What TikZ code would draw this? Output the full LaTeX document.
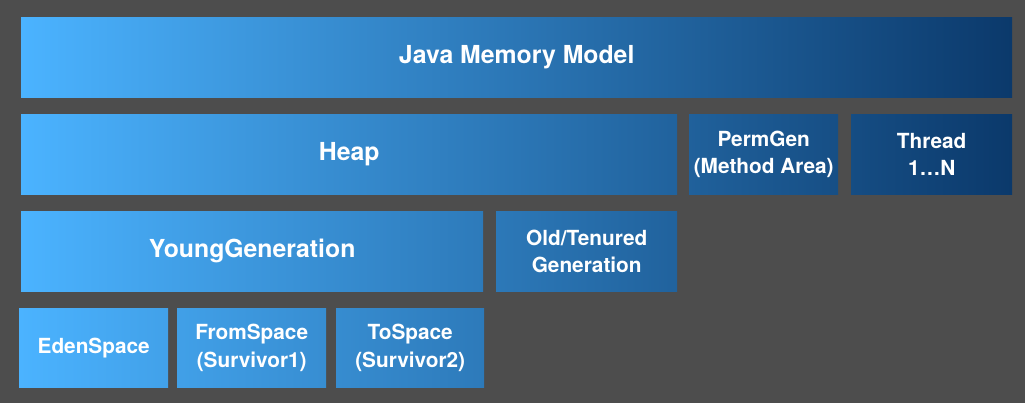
\documentclass[tikz,border=0pt]{standalone}
\usepackage{fontspec}
\setmainfont{TeX Gyre Heros}
\usepackage{tikz}

\definecolor{bgdark}{HTML}{4D4D4D}
\definecolor{layerlight}{HTML}{4BB3FF}
\definecolor{layerdeep}{HTML}{0B396B}

\begin{document}
\begin{tikzpicture}[x=1pt, y=-1pt,
  layer/.style 2 args={anchor=north west, inner sep=0pt, align=center, text=white,
    left color=layerdeep!#1!layerlight, right color=layerdeep!#2!layerlight},
  bigtext/.style={font=\fontsize{24.8}{30}\selectfont\bfseries},
  smalltext/.style={font=\fontsize{20.8}{27.5}\selectfont\bfseries}]
  % Dark backdrop
  \fill[bgdark] (0,0) rectangle (1025,403);
  \useasboundingbox (0,0) rectangle (1025,403);

  % Top level
  \node[layer={0}{100}, bigtext, minimum width=991pt, minimum height=80pt]
    (jmm) at (21,17) {Java Memory Model};

  % Second row: heap, method area, threads
  \node[layer={0}{66.2}, bigtext, minimum width=656pt, minimum height=80pt]
    (heap) at (21,114) {Heap};
  \node[layer={67.4}{82.4}, smalltext, minimum width=149pt, minimum height=80pt]
    (permgen) at (689,114) {PermGen\\(Method Area)};
  \node[layer={83.8}{100}, smalltext, minimum width=161pt, minimum height=80pt]
    (thread) at (851,114) {Thread\\1…N};

  % Third row: generations of the heap
  \node[layer={0}{46.6}, bigtext, minimum width=462pt, minimum height=80pt]
    (young) at (21,211) {YoungGeneration};
  \node[layer={47.9}{66.2}, smalltext, minimum width=181pt, minimum height=80pt]
    (old) at (496,211) {Old/Tenured\\Generation};

  % Bottom row: spaces of the young generation
  \node[layer={0}{14.9}, smalltext, minimum width=149pt, minimum height=79pt]
    (eden) at (19,308) {EdenSpace};
  \node[layer={15.7}{30.8}, smalltext, minimum width=149pt, minimum height=79pt]
    (fromspace) at (177,308) {FromSpace\\(Survivor1)};
  \node[layer={31.8}{46.7}, smalltext, minimum width=148pt, minimum height=79pt]
    (tospace) at (336,308) {ToSpace\\(Survivor2)};
\end{tikzpicture}
\end{document}
